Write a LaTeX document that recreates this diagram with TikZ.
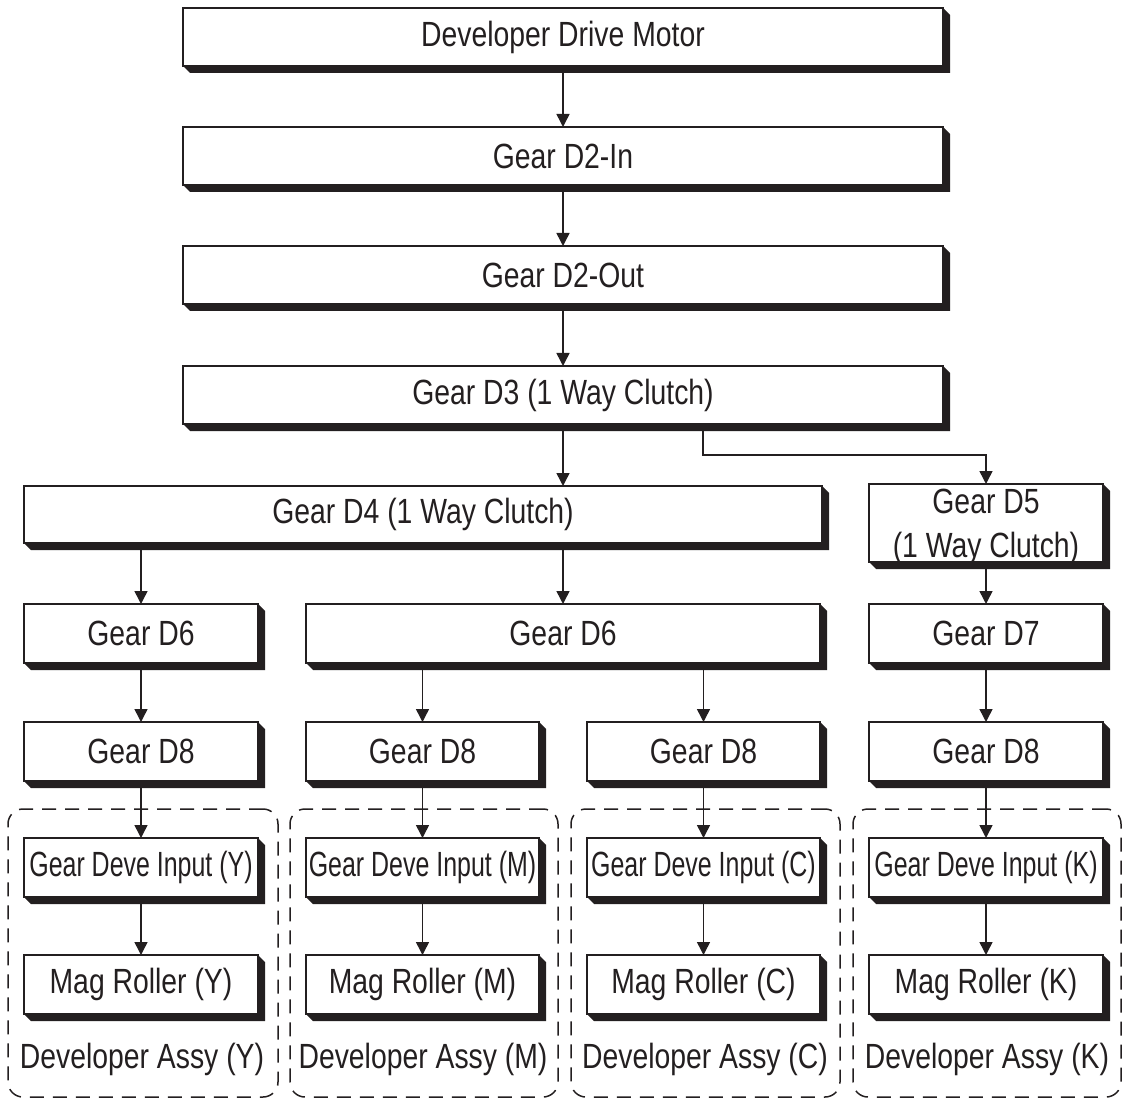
\documentclass[tikz,border=0pt]{standalone}
\usepackage{fontspec}
\usepackage{graphicx}
\setmainfont{Liberation Sans}[FakeStretch=0.81]
\usetikzlibrary{arrows.meta,calc}
\definecolor{ink}{HTML}{231F20}
\tikzset{
  box/.style={draw=ink, line width=1.6pt, fill=white, rectangle, inner sep=0pt, outer sep=0pt,
    text=ink, align=center, font=\fontsize{35}{45}\selectfont},
  conn/.style={draw=ink, line width=1.5pt, -{Triangle[width=13pt,length=13pt]}},
  assy/.style={draw=ink, line width=1.5pt, dash pattern=on 14pt off 9pt, rounded corners=15pt,
    rectangle, inner sep=0pt, outer sep=0pt},
  lbl/.style={text=ink, anchor=base, inner sep=0pt, font=\fontsize{35}{44}\selectfont},
}
\newcommand\shd[1]{\fill[ink] (#1.south west) -- ++(7,7) -| ($(#1.north east)+(7,7)$) -- (#1.north east) -- (#1.south east) -- cycle;}
\newcommand\gdi[1]{\scalebox{0.88}[1]{#1}}
% \bx[style]{name}{x1}{y1}{x2}{y2}{text}
\newcommand\bx[7][box]{\node[#1, minimum width={#5pt-#3pt}, minimum height={#6pt-#4pt}] (#2) at ({(#3+#5)/2},{(#4+#6)/2}) {#7};}
\begin{document}
\begin{tikzpicture}[x=1pt,y=-1pt]
\useasboundingbox (0,0) rectangle (1125,1099);
% developer assy groups
\bx[assy]{ay}{8}{809}{278}{1097}{}
\bx[assy]{am}{290}{809}{558}{1097}{}
\bx[assy]{ac}{571}{809}{840}{1097}{}
\bx[assy]{ak}{853}{809}{1121}{1097}{}
\node[lbl] (ly) at (142,1068) {Developer Assy (Y)};
\node[lbl] (lm) at (423,1068) {Developer Assy (M)};
\node[lbl] (lc) at (705,1068) {Developer Assy (C)};
\node[lbl] (lk) at (987,1068) {Developer Assy (K)};
% boxes
\bx{motor}{183}{8}{943}{66}{Developer Drive Motor}
\bx{d2in}{183}{127}{943}{185}{Gear D2-In}
\bx{d2out}{183}{246}{943}{304}{Gear D2-Out}
\bx{d3}{183}{366}{943}{424}{Gear D3 (1 Way Clutch)}
\bx{d4}{24}{486}{822}{543}{Gear D4 (1 Way Clutch)}
\bx{d5}{869}{484}{1103}{562}{}
\bx{d6a}{24}{604}{258}{663}{Gear D6}
\bx{d6b}{306}{604}{820}{663}{Gear D6}
\bx{d7}{869}{604}{1103}{663}{Gear D7}
\bx{d8y}{24}{722}{258}{781}{Gear D8}
\bx{d8m}{306}{722}{539}{781}{Gear D8}
\bx{d8c}{587}{722}{820}{781}{Gear D8}
\bx{d8k}{869}{722}{1103}{781}{Gear D8}
\bx{gy}{24}{838}{258}{897}{\gdi{Gear Deve Input (Y)}}
\bx{gm}{306}{838}{539}{897}{\gdi{Gear Deve Input (M)}}
\bx{gc}{587}{838}{820}{897}{\gdi{Gear Deve Input (C)}}
\bx{gk}{869}{838}{1103}{897}{\gdi{Gear Deve Input (K)}}
\bx{my}{24}{955}{258}{1014}{Mag Roller (Y)}
\bx{mm}{306}{955}{539}{1014}{Mag Roller (M)}
\bx{mc}{587}{955}{820}{1014}{Mag Roller (C)}
\bx{mk}{869}{955}{1103}{1014}{Mag Roller (K)}
% connectors
\draw[conn] (motor.south) -- (d2in.north);
\draw[conn] (d2in.south) -- (d2out.north);
\draw[conn] (d2out.south) -- (d3.north);
\draw[conn] (d3.south) -- (d3.south |- d4.north);
\coordinate (br) at (703,424);
\draw[conn] (br) -- ++(0,31) -| (d5.north);
\draw[conn] (d4.south -| d6a.north) -- (d6a.north);
\draw[conn] (d4.south -| d6b.north) -- (d6b.north);
\draw[conn] (d5.south) -- (d7.north);
\draw[conn] (d6a.south) -- (d8y.north);
\draw[conn] (d6b.south -| d8m.north) -- (d8m.north);
\draw[conn] (d6b.south -| d8c.north) -- (d8c.north);
\draw[conn] (d7.south) -- (d8k.north);
\foreach \c in {y,m,c,k}{
  \draw[conn] (d8\c.south) -- (g\c.north);
  \draw[conn] (g\c.south) -- (m\c.north);
}
% shadows
\foreach \n in {motor,d2in,d2out,d3,d4,d5,d6a,d6b,d7,d8y,d8m,d8c,d8k,gy,gm,gc,gk,my,mm,mc,mk}{\shd{\n}}
% two-line text of Gear D5 (slightly overlapping its box edges, as printed)
\node[lbl, anchor=center, align=center] (d5t) at (986,527) {Gear D5\\(1 Way Clutch)};
\end{tikzpicture}
\end{document}
